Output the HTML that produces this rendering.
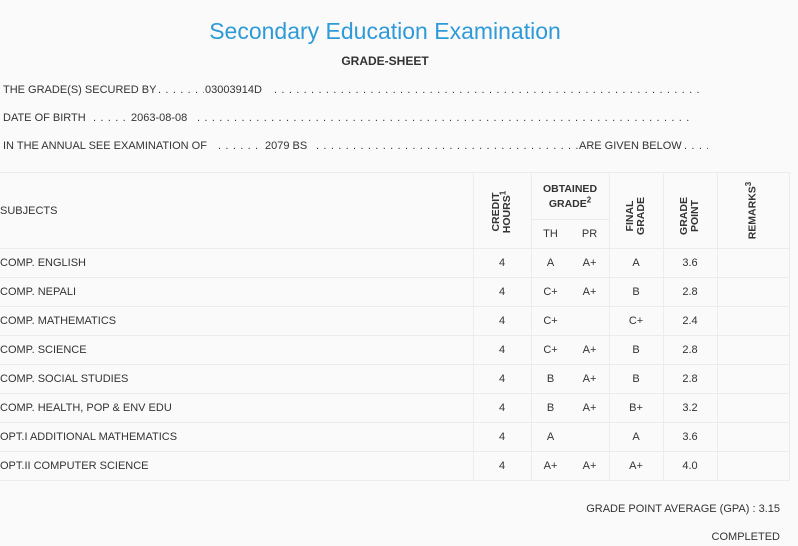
<!DOCTYPE html>
<html><head><meta charset="utf-8"><style>
*{margin:0;padding:0;box-sizing:border-box}
body{width:798px;height:546px;background:#fafafa;font-family:"Liberation Sans","DejaVu Sans",sans-serif;color:#333;position:relative;overflow:hidden;font-size:11px}
.a{position:absolute;white-space:nowrap;line-height:14px}
.d{position:absolute;white-space:nowrap;line-height:14px;overflow:hidden;letter-spacing:0.65px}
.c{text-align:center}
.hl{position:absolute;height:1px;background:#ececec}
.vl{position:absolute;width:1px;background:#ececec}
.rot{position:absolute;transform:rotate(-90deg);transform-origin:center;text-align:center;font-weight:bold;line-height:11px;font-size:10.5px}
sup{font-size:8px;line-height:0}
</style></head><body>
<div class="a c" style="left:0;width:770px;top:18px;font-size:23px;line-height:26px;color:#2e9ad8">Secondary Education Examination</div>
<div class="a c" style="left:0;width:770px;top:54px;font-weight:bold;font-size:12px">GRADE-SHEET</div>

<div class="a" style="left:3px;top:83px">THE GRADE(S) SECURED BY</div>
<div class="d" style="left:158px;top:83px;width:46px">. . . . . . . .</div>
<div class="a" style="left:205px;top:83px">03003914D</div>
<div class="d" style="left:274px;top:83px;width:430px">. . . . . . . . . . . . . . . . . . . . . . . . . . . . . . . . . . . . . . . . . . . . . . . . . . . . . . . . . . . . . . . .</div>

<div class="a" style="left:3px;top:111px">DATE OF BIRTH</div>
<div class="d" style="left:93px;top:111px;width:36px">. . . . . . . .</div>
<div class="a" style="left:131px;top:111px">2063-08-08</div>
<div class="d" style="left:197px;top:111px;width:495px">. . . . . . . . . . . . . . . . . . . . . . . . . . . . . . . . . . . . . . . . . . . . . . . . . . . . . . . . . . . . . . . . . . . . . . . . .</div>

<div class="a" style="left:3px;top:139px">IN THE ANNUAL SEE EXAMINATION OF</div>
<div class="d" style="left:218px;top:139px;width:45px">. . . . . . . .</div>
<div class="a" style="left:265px;top:139px">2079 BS</div>
<div class="d" style="left:316px;top:139px;width:262px">. . . . . . . . . . . . . . . . . . . . . . . . . . . . . . . . . . . . . . . . .</div>
<div class="a" style="left:579px;top:139px">ARE GIVEN BELOW</div>
<div class="d" style="left:684px;top:139px;width:24px">. . . .</div>

<div class="hl" style="left:0;width:790px;top:172px"></div>
<div class="hl" style="left:531px;width:78px;top:219px"></div>
<div class="hl" style="left:0;width:790px;top:248px"></div>
<div class="hl" style="left:0;width:790px;top:277px"></div>
<div class="hl" style="left:0;width:790px;top:306px"></div>
<div class="hl" style="left:0;width:790px;top:335px"></div>
<div class="hl" style="left:0;width:790px;top:364px"></div>
<div class="hl" style="left:0;width:790px;top:393px"></div>
<div class="hl" style="left:0;width:790px;top:422px"></div>
<div class="hl" style="left:0;width:790px;top:451px"></div>
<div class="hl" style="left:0;width:790px;top:480px"></div>
<div class="vl" style="left:473px;top:172px;height:308px"></div>
<div class="vl" style="left:531px;top:172px;height:308px"></div>
<div class="vl" style="left:609px;top:172px;height:308px"></div>
<div class="vl" style="left:663px;top:172px;height:308px"></div>
<div class="vl" style="left:717px;top:172px;height:308px"></div>
<div class="vl" style="left:789px;top:172px;height:308px"></div>

<div class="a" style="left:0;top:204px">SUBJECTS</div>
<div class="rot" style="left:462px;top:201px;width:80px">CREDIT<br>HOURS<sup>1</sup></div>
<div class="a c" style="left:531px;width:78px;top:182px;font-weight:bold;font-size:10.5px;line-height:15px">OBTAINED<br>GRADE<sup>2</sup></div>
<div class="a c" style="left:531px;width:39px;top:227px">TH</div>
<div class="a c" style="left:570px;width:39px;top:227px">PR</div>
<div class="rot" style="left:596px;top:205px;width:80px">FINAL<br>GRADE</div>
<div class="rot" style="left:650px;top:205px;width:80px">GRADE<br>POINT</div>
<div class="rot" style="left:713px;top:205px;width:80px">REMARKS<sup>3</sup></div>

<div class="a" style="left:0;top:256px">COMP. ENGLISH</div>
<div class="a" style="left:0;top:285px">COMP. NEPALI</div>
<div class="a" style="left:0;top:314px">COMP. MATHEMATICS</div>
<div class="a" style="left:0;top:343px">COMP. SCIENCE</div>
<div class="a" style="left:0;top:372px">COMP. SOCIAL STUDIES</div>
<div class="a" style="left:0;top:401px">COMP. HEALTH, POP &amp; ENV EDU</div>
<div class="a" style="left:0;top:430px">OPT.I ADDITIONAL MATHEMATICS</div>
<div class="a" style="left:0;top:459px">OPT.II COMPUTER SCIENCE</div>

<div style="position:absolute;left:473px;top:249px;width:260px;font-size:11px;line-height:29px">
<div style="display:flex"><span style="width:58px;text-align:center">4</span><span style="width:39px;text-align:center">A</span><span style="width:39px;text-align:center">A+</span><span style="width:54px;text-align:center">A</span><span style="width:54px;text-align:center">3.6</span></div>
<div style="display:flex"><span style="width:58px;text-align:center">4</span><span style="width:39px;text-align:center">C+</span><span style="width:39px;text-align:center">A+</span><span style="width:54px;text-align:center">B</span><span style="width:54px;text-align:center">2.8</span></div>
<div style="display:flex"><span style="width:58px;text-align:center">4</span><span style="width:39px;text-align:center">C+</span><span style="width:39px;text-align:center"></span><span style="width:54px;text-align:center">C+</span><span style="width:54px;text-align:center">2.4</span></div>
<div style="display:flex"><span style="width:58px;text-align:center">4</span><span style="width:39px;text-align:center">C+</span><span style="width:39px;text-align:center">A+</span><span style="width:54px;text-align:center">B</span><span style="width:54px;text-align:center">2.8</span></div>
<div style="display:flex"><span style="width:58px;text-align:center">4</span><span style="width:39px;text-align:center">B</span><span style="width:39px;text-align:center">A+</span><span style="width:54px;text-align:center">B</span><span style="width:54px;text-align:center">2.8</span></div>
<div style="display:flex"><span style="width:58px;text-align:center">4</span><span style="width:39px;text-align:center">B</span><span style="width:39px;text-align:center">A+</span><span style="width:54px;text-align:center">B+</span><span style="width:54px;text-align:center">3.2</span></div>
<div style="display:flex"><span style="width:58px;text-align:center">4</span><span style="width:39px;text-align:center">A</span><span style="width:39px;text-align:center"></span><span style="width:54px;text-align:center">A</span><span style="width:54px;text-align:center">3.6</span></div>
<div style="display:flex"><span style="width:58px;text-align:center">4</span><span style="width:39px;text-align:center">A+</span><span style="width:39px;text-align:center">A+</span><span style="width:54px;text-align:center">A+</span><span style="width:54px;text-align:center">4.0</span></div>
</div>
<div class="a" style="right:18px;top:502px">GRADE POINT AVERAGE (GPA) : 3.15</div>
<div class="a" style="right:18px;top:530px">COMPLETED</div>
</body></html>
